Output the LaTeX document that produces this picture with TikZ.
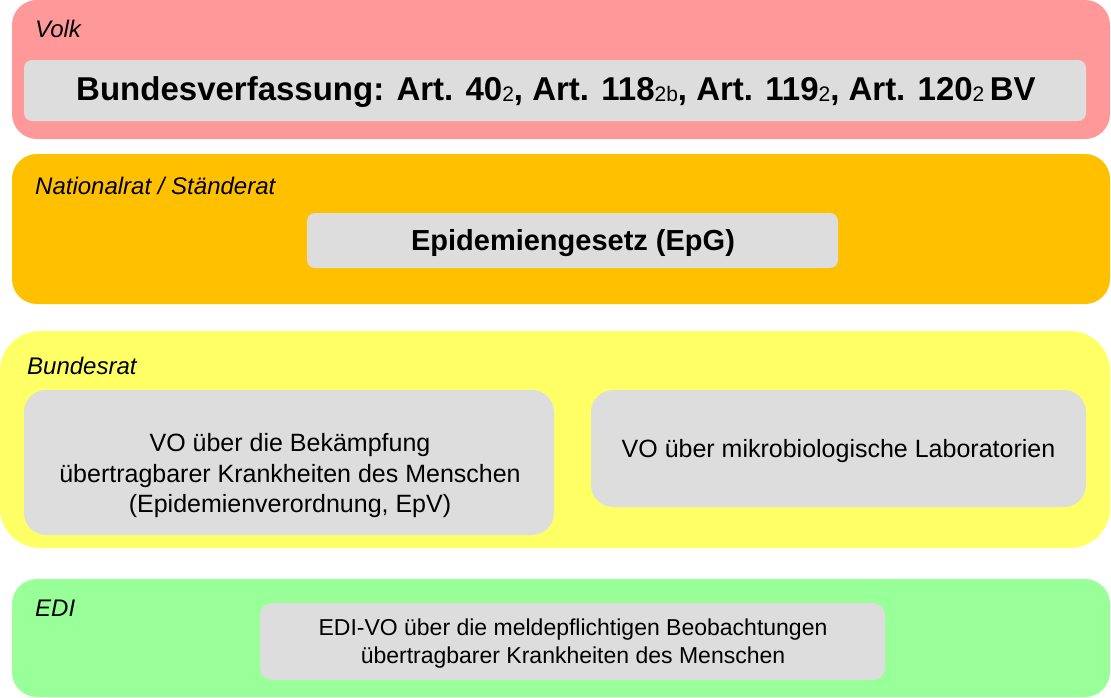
\documentclass[tikz,border=0pt]{standalone}
\usepackage{fontspec}
\setmainfont{Liberation Sans}
\definecolor{cred}{HTML}{FF9999}
\definecolor{corange}{HTML}{FFC000}
\definecolor{cyellow}{HTML}{FFFF66}
\definecolor{cgreen}{HTML}{99FF99}
\definecolor{cgrey}{HTML}{DDDDDD}
\newcommand{\sbs}[1]{\raisebox{-1.5pt}{\fontsize{21}{22}\selectfont\mdseries #1}}
\begin{document}
\begin{tikzpicture}[x=1pt,y=-1pt,
  lbl/.style={anchor=west, inner sep=0pt, font=\fontsize{24}{27}\selectfont\itshape},
  greybox/.style={fill=cgrey, draw=none, inner sep=0pt},
  txt/.style={align=center, inner sep=0pt, font=\fontsize{25}{30.5}\selectfont}]
\useasboundingbox (0,0) rectangle (1111,697);
\fill[white] (0,0) rectangle (1111,697);
% levels
\fill[cred, rounded corners=25pt] (12,0) rectangle (1110,139);
\fill[corange, rounded corners=25pt] (12,154) rectangle (1110,304);
\fill[cyellow, rounded corners=40pt] (0,331) rectangle (1110,548);
\fill[cgreen, rounded corners=25pt] (12,579) rectangle (1110,697);
% labels
\node[lbl] (volk) at (35,29) {Volk};
\node[lbl] (nrsr) at (35,186) {Nationalrat / Ständerat};
\node[lbl] (br) at (27,366) {Bundesrat};
\node[lbl] (edi) at (35,608) {EDI};
% boxes
\node[greybox, rounded corners=8pt, minimum width=1062pt, minimum height=61pt] (bv) at (555,90.5) {};
\node[txt, font=\fontsize{33}{36}\selectfont\bfseries] (bvt) at (556,92)
  {Bundesverfassung: Art. 40\sbs{2}, Art. 118\sbs{2b}, Art. 119\sbs{2}, Art. 120\sbs{2}\,BV};
\node[greybox, rounded corners=8pt, minimum width=531pt, minimum height=55pt] (epg) at (572.5,240.5) {};
\node[txt, font=\fontsize{29}{32}\selectfont\bfseries] (epgt) at (573,243) {Epidemiengesetz (EpG)};
\node[greybox, rounded corners=22pt, minimum width=530pt, minimum height=145pt] (epv) at (289,462.5) {};
\node[txt] (epvt) at (290,476)
  {VO über die Bekämpfung\\übertragbarer Krankheiten des Menschen\\(Epidemienverordnung, EpV)};
\node[greybox, rounded corners=22pt, minimum width=495pt, minimum height=117pt] (lab) at (838.5,448.5) {};
\node[txt] (labt) at (838.5,451) {VO über mikrobiologische Laboratorien};
\node[greybox, rounded corners=12pt, minimum width=625pt, minimum height=77pt] (edivo) at (572.5,641.5) {};
\node[txt, font=\fontsize{23}{28}\selectfont] (edivot) at (573,643.5)
  {EDI-VO über die meldepflichtigen Beobachtungen\\übertragbarer Krankheiten des Menschen};
\end{tikzpicture}
\end{document}
